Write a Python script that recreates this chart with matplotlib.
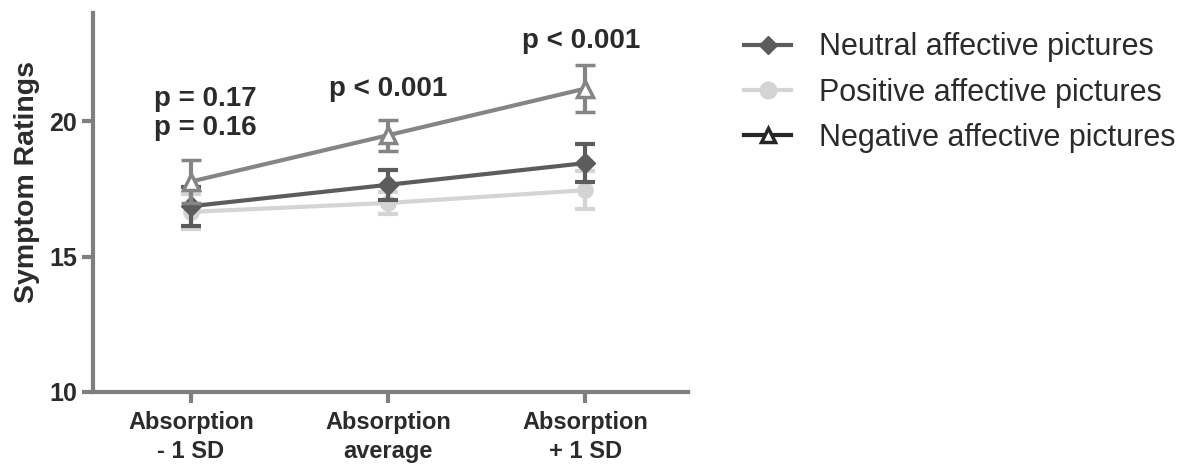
import matplotlib
matplotlib.use("Agg")
import matplotlib.pyplot as plt
from matplotlib.lines import Line2D

plt.rcParams['font.family'] = ['Liberation Sans', 'DejaVu Sans']

# data
conditions = ["Absorption\n- 1 SD", "Absorption\naverage", "Absorption\n+ 1 SD"]
neutral = [16.86, 17.65, 18.45]
neutral_err = [0.72, 0.55, 0.70]
positive = [16.65, 16.98, 17.45]
positive_err = [0.65, 0.42, 0.70]
negative = [17.77, 19.48, 21.2]
negative_err = [0.80, 0.57, 0.86]
p_labels = ["p = 0.17\np = 0.16", "p < 0.001", "p < 0.001"]
p_y = [20.3, 21.2, 22.95]

x = list(range(len(conditions)))

fig = plt.figure(figsize=(12.02, 4.74), dpi=100)
ax = fig.add_axes([0.077, 0.173, 0.495, 0.80])

axis_gray = '#7f7f7f'
txt = '#2b2b2b'

# positive first (behind), then neutral, then negative
ax.errorbar(x, positive, yerr=positive_err, color='#d4d4d4', lw=3, marker='o',
            ms=11, mfc='#d4d4d4', mec='#d4d4d4', capsize=7, capthick=3, elinewidth=3, zorder=2)
ax.errorbar(x, neutral, yerr=neutral_err, color='#5c5c5c', lw=3, marker='D',
            ms=10, mfc='#5c5c5c', mec='#5c5c5c', capsize=7, capthick=3, elinewidth=3, zorder=3)
ax.errorbar(x, negative, yerr=negative_err, color='#858585', lw=3, marker='^',
            ms=11, mfc='white', mec='#858585', mew=2.5, capsize=7, capthick=3, elinewidth=3, zorder=4)

ax.set_xlim(-0.5, 2.52)
ax.set_ylim(10, 24)
ax.set_yticks([10, 15, 20])
ax.set_xticks(x)
ax.set_xticklabels(conditions, linespacing=1.3)

for s in ['top', 'right']:
    ax.spines[s].set_visible(False)
for s in ['left', 'bottom']:
    ax.spines[s].set_color(axis_gray)
    ax.spines[s].set_linewidth(3)
ax.tick_params(axis='both', direction='out', length=8, width=3, color=axis_gray,
               labelcolor=txt)
ax.tick_params(axis='x', labelsize=17, pad=6)
ax.tick_params(axis='y', labelsize=18, pad=3)
for lab in ax.get_xticklabels() + ax.get_yticklabels():
    lab.set_fontweight('bold')

ax.set_ylabel("Symptom Ratings", fontsize=20.5, fontweight='bold', color=txt)
ax.yaxis.set_label_coords(-0.088, 0.555)

ax.text(-0.19, p_y[0], p_labels[0], fontsize=20, fontweight='bold', color=txt,
        ha='left', va='center', linespacing=1.15)
ax.text(1, p_y[1], p_labels[1], fontsize=20, fontweight='bold', color=txt, ha='center', va='center')
ax.text(1.98, p_y[2], p_labels[2], fontsize=20, fontweight='bold', color=txt, ha='center', va='center')

handles = [
    Line2D([], [], color='#5c5c5c', lw=3, marker='D', ms=9, mfc='#5c5c5c', mec='#5c5c5c'),
    Line2D([], [], color='#d4d4d4', lw=3, marker='o', ms=12, mfc='#d4d4d4', mec='#d4d4d4'),
    Line2D([], [], color='#262626', lw=3, marker='^', ms=10, mfc='white', mec='#262626', mew=2.5),
]
labels = ["Neutral affective pictures", "Positive affective pictures", "Negative affective pictures"]
fig.legend(handles, labels, loc='upper left', bbox_to_anchor=(0.596, 0.99), frameon=False,
           fontsize=22, handlelength=1.55, handletextpad=0.9, labelspacing=0.5,
           labelcolor=txt)

fig.savefig("out.png", dpi=100, facecolor='white')
